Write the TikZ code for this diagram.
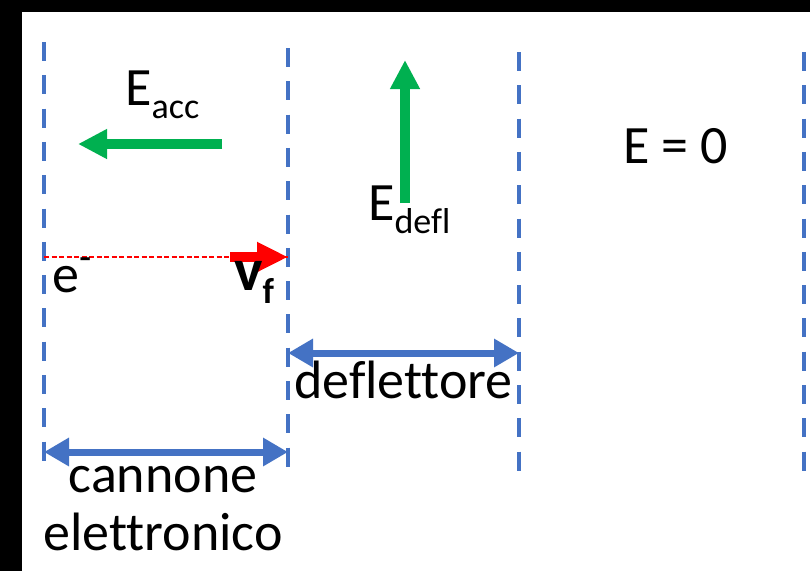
\documentclass[tikz,border=0pt]{standalone}
\usepackage{fontspec}
\setmainfont{Carlito}[Ligatures={NoCommon,NoRare,NoContextual}]
\usetikzlibrary{arrows.meta}
\definecolor{dblue}{HTML}{4472C4}
\definecolor{fgreen}{HTML}{00B050}
\definecolor{fred}{HTML}{FF0000}
\begin{document}
\begin{tikzpicture}[x=1pt,y=-1pt,
  plate/.style={draw=dblue,line width=4.5pt,dash pattern=on 19pt off 14.3pt},
  field/.style={draw=fgreen,line width=10pt,-{Triangle[length=29pt,width=28pt]}},
  span/.style={draw=dblue,line width=7pt,{Triangle[length=25pt,width=27pt]}-{Triangle[length=25pt,width=27pt]}},
  lbl/.style={inner sep=0pt,anchor=base west,font=\fontsize{54}{58}\selectfont},
  clbl/.style={inner sep=0pt,anchor=base,font=\fontsize{54}{58}\selectfont}]
\useasboundingbox (0,0) rectangle (810,571);
\fill[black] (0,0) rectangle (810,571);
\fill[white] (22,12) rectangle (810,571);
% plates
\coordinate (p1t) at (44,42);  \coordinate (p1b) at (44,461);
\coordinate (p2t) at (288,48); \coordinate (p2b) at (288,467);
\coordinate (p3t) at (519,52); \coordinate (p3b) at (519,471);
\coordinate (p4t) at (804,52); \coordinate (p4b) at (804,471);
\draw[plate] (p1t) -- (p1b);
\draw[plate] (p2t) -- (p2b);
\draw[plate] (p3t) -- (p3b);
\draw[plate] (p4t) -- (p4b);
% fields
\coordinate (ea1) at (222,144); \coordinate (ea2) at (78,144);
\draw[field] (ea1) -- (ea2);
\node[lbl] (eacc) at (125,105) {E\raisebox{-13pt}{\fontsize{36}{40}\selectfont acc}};
\coordinate (ed1) at (405,203); \coordinate (ed2) at (405,60);
\draw[field] (ed1) -- (ed2);
\node[lbl] (edefl) at (368,220) {E\raisebox{-13pt}{\fontsize{36}{40}\selectfont defl}};
\node[lbl] (ezero) at (623,163) {E = 0};
% electron
\coordinate (r1) at (44,257); \coordinate (r2) at (288,257); \coordinate (r3) at (230,257);
\draw[fred,line width=1.5pt,dash pattern=on 5pt off 2.5pt] (r1) -- (r2);
\draw[fred,line width=10pt,-{Triangle[length=31pt,width=28pt]}] (r3) -- (r2);
\node[lbl] (elec) at (52,292) {e\raisebox{22pt}{\fontsize{40}{44}\selectfont -}};
\node[lbl] (vf) at (234,290) {\fontsize{60}{64}\selectfont\textbf{v}\raisebox{-13pt}{\fontsize{36}{40}\selectfont\textbf{f}}};
% spans
\coordinate (d1) at (288,353); \coordinate (d2) at (519,353);
\draw[span] (d1) -- (d2);
\node[clbl] (defl) at (403.5,398) {deflettore};
\coordinate (c1) at (44,452); \coordinate (c2) at (288,452);
\draw[span] (c1) -- (c2);
\node[clbl] (cann) at (163,492) {cannone};
\node[clbl] (elet) at (163,550) {elettronico};
\end{tikzpicture}
\end{document}
